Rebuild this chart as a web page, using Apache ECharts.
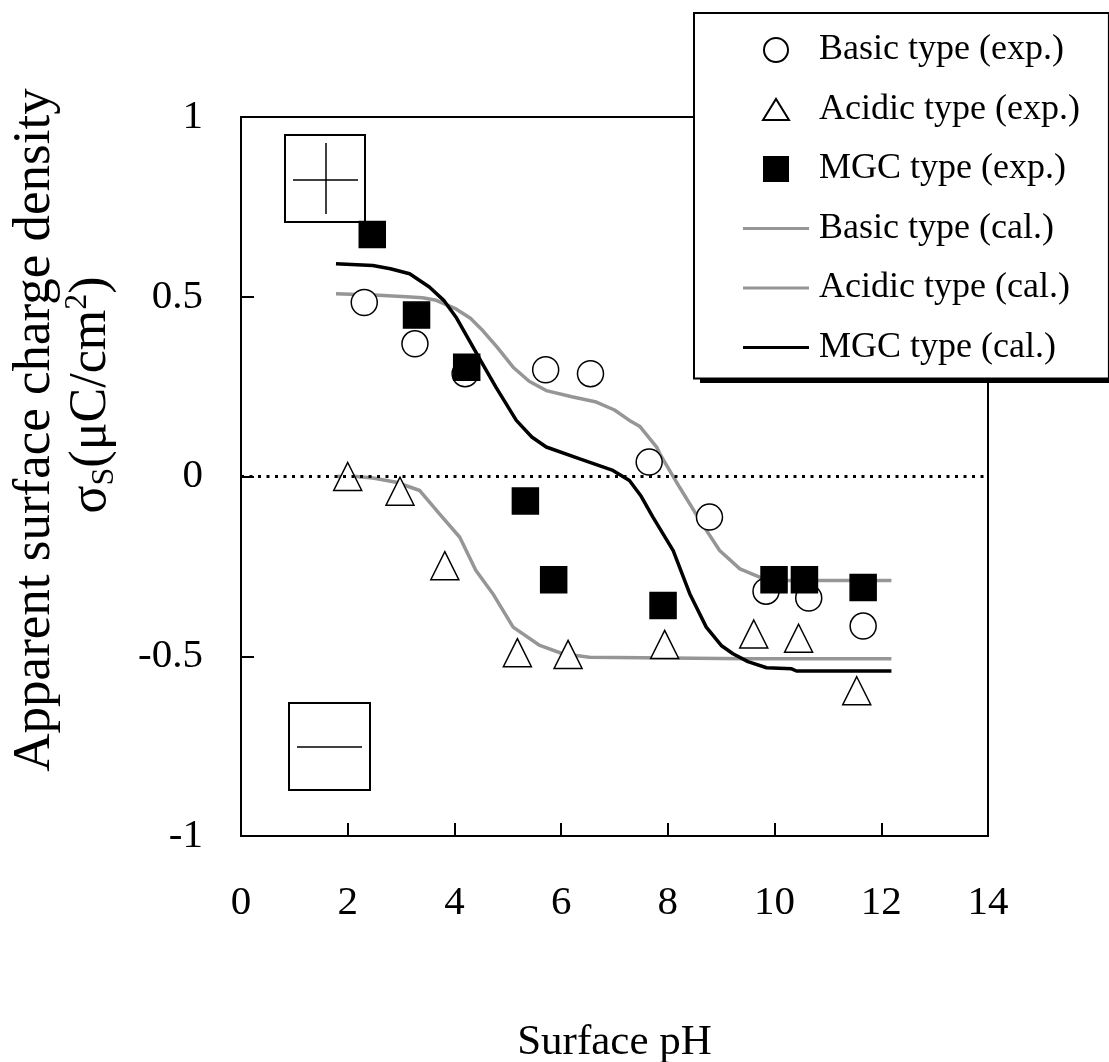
<!DOCTYPE html>
<html>
<head>
<meta charset="utf-8">
<script src="https://cdn.jsdelivr.net/npm/echarts@6/dist/echarts.min.js"></script>
<style>
  html, body { margin: 0; padding: 0; background: #fff; }
  #chart { width: 1109px; height: 1062px; }
</style>
</head>
<body>
<div id="chart"></div>
<script>
// experimental points (surface pH, charge density)
var basicExpPH = [2.31, 3.26, 4.20, 5.71, 6.55, 7.65, 8.78, 9.84, 10.64, 11.66]
var basicExpSigma = [0.484, 0.369, 0.286, 0.297, 0.286, 0.040, -0.113, -0.319, -0.338, -0.416]

var acidicExpPH = [2.00, 2.98, 3.82, 5.18, 6.13, 7.94, 9.61, 10.45, 11.54]
var acidicExpSigma = [0.000, -0.041, -0.248, -0.490, -0.495, -0.467, -0.438, -0.450, -0.596]

var mgcExpPH = [2.46, 3.29, 4.23, 5.33, 5.86, 7.91, 9.99, 10.56, 11.66]
var mgcExpSigma = [0.673, 0.449, 0.304, -0.068, -0.287, -0.359, -0.287, -0.287, -0.309]

// calculated curves
var basicCalPH = [1.78, 2.5, 3.1, 3.4, 3.66, 4.03, 4.3, 4.53, 4.8, 5.1, 5.4, 5.72, 6.2, 6.66, 7.0, 7.28, 7.47,
    7.79, 7.85, 8.22, 8.6, 8.97, 9.35, 9.72, 10.22, 12.19]
var basicCalSigma = [0.508, 0.505, 0.500, 0.497, 0.490, 0.466, 0.440, 0.406, 0.360, 0.304, 0.265, 0.239, 0.222,
    0.207, 0.185, 0.156, 0.140, 0.082, 0.063, -0.030, -0.122, -0.206, -0.257, -0.280, -0.289, -0.289]

var acidicCalPH = [1.8, 2.16, 2.47, 2.91, 3.35, 3.72, 4.1, 4.4, 4.72, 5.1, 5.6, 6.03, 6.53, 8.0, 9.5, 12.19]
var acidicCalSigma = [0.000, 0.000, -0.004, -0.016, -0.039, -0.104, -0.169, -0.261, -0.326, -0.419, -0.470,
    -0.493, -0.503, -0.505, -0.507, -0.507]

var mgcCalPH = [1.78, 2.47, 2.8, 3.16, 3.53, 3.8, 4.03, 4.28, 4.5, 4.78, 5.16, 5.45, 5.72, 6.35, 6.97, 7.28, 7.5,
    7.72, 8.1, 8.41, 8.72, 9.0, 9.22, 9.5, 9.85, 10.32, 10.41, 12.19]
var mgcCalSigma = [0.592, 0.587, 0.578, 0.564, 0.527, 0.490, 0.443, 0.378, 0.320, 0.248, 0.156, 0.110, 0.082,
    0.049, 0.017, -0.011, -0.055, -0.113, -0.206, -0.326, -0.419, -0.470, -0.493, -0.515, -0.532, -0.535,
    -0.541, -0.541]

var legendNames = ['Basic type (exp.)', 'Acidic type (exp.)', 'MGC type (exp.)',
    'Basic type (cal.)', 'Acidic type (cal.)', 'MGC type (cal.)']
// icons drawn in a 66x24 box (leading moveTo's fix the box size)
var lineIcon = 'path://M0,0M66,24M0,10.5L66,10.5L66,13.5L0,13.5Z'
var legendIcons = ['circle',
    'path://M0,0M66,24M20,22.5L33,1.5L46,22.5Z',
    'path://M0,0M66,24M21,0L45,0L45,24L21,24Z',
    lineIcon, lineIcon, lineIcon]

var serif = '"Liberation Serif", "Times New Roman", serif'

function pairs(xs, ys) {
    var out = []
    for (let i = 0; i < xs.length; i++) {
        out.push([xs[i], ys[i]])
    }
    return out
}

function calLine(name, xs, ys, color) {
    return {
        name: name,
        type: 'line',
        data: pairs(xs, ys),
        symbol: 'none',
        smooth: false,
        z: 2,
        lineStyle: { color: color, width: 3.5 },
        itemStyle: { color: color }
    }
}

function expPoints(name, xs, ys, symbol, size, fill) {
    return {
        name: name,
        type: 'scatter',
        data: pairs(xs, ys),
        symbol: symbol,
        symbolSize: size,
        z: 3,
        itemStyle: { color: fill, borderColor: '#000', borderWidth: 1.5, opacity: 1 }
    }
}

var zeroLine = calLine(legendNames[3], basicCalPH, basicCalSigma, '#969696')
zeroLine.markLine = {
    silent: true,
    symbol: ['none', 'none'],
    label: { show: false },
    lineStyle: { color: '#000', type: [3, 5.5], width: 3 },
    data: [{ yAxis: 0 }]
}

var legendData = []
for (let i = 0; i < legendNames.length; i++) {
    legendData.push({ name: legendNames[i], icon: legendIcons[i] })
}

var option = {
    animation: false,
    backgroundColor: '#fff',
    grid: {
        left: 241, right: 121, top: 117, bottom: 226,
        outerBoundsMode: 'none',
        containLabel: false,
        show: true, borderColor: '#000', borderWidth: 2, backgroundColor: 'transparent'
    },
    xAxis: {
        type: 'value',
        min: 0, max: 14, interval: 2,
        name: 'Surface pH',
        nameLocation: 'middle',
        nameGap: 185,
        nameTextStyle: { fontFamily: serif, fontSize: 43, color: '#000' },
        axisLine: { show: true, onZero: false, lineStyle: { color: '#000', width: 2 } },
        axisTick: { show: true, inside: true, length: 13, lineStyle: { color: '#000', width: 2 } },
        axisLabel: { fontFamily: serif, fontSize: 41, color: '#000', margin: 47 },
        splitLine: { show: false }
    },
    yAxis: {
        type: 'value',
        min: -1, max: 1, interval: 0.5,
        axisLine: { show: true, onZero: false, lineStyle: { color: '#000', width: 2 } },
        axisTick: { show: true, inside: true, length: 13, lineStyle: { color: '#000', width: 2 } },
        axisLabel: { fontFamily: serif, fontSize: 41, color: '#000', margin: 38 },
        splitLine: { show: false }
    },
    legend: {
        data: legendData,
        orient: 'vertical',
        left: 694,
        top: 13,
        padding: [19, 29, 13, 48],
        itemWidth: 66,
        itemHeight: 24,
        itemGap: 23.5,
        symbolKeepAspect: true,
        backgroundColor: '#fff',
        borderColor: '#000',
        borderWidth: 2,
        selectedMode: false,
        z: 6,
        textStyle: { fontFamily: serif, fontSize: 36, color: '#000', padding: [0, 0, 0, 5] }
    },
    graphic: [
        {
            type: 'text', x: 35, y: 430, rotation: Math.PI / 2,
            style: {
                text: 'Apparent surface charge density',
                fontFamily: serif, fontSize: 53, fill: '#000',
                align: 'center', verticalAlign: 'middle'
            }
        },
        {
            type: 'text', x: 91, y: 395, rotation: Math.PI / 2,
            style: {
                text: '{m|σ}{sub|S}{m|(μC/cm}{sup|2}{m|)}',
                align: 'center', verticalAlign: 'middle', fill: '#000',
                rich: {
                    m: { fontFamily: serif, fontSize: 52, lineHeight: 64, verticalAlign: 'middle', fill: '#000' },
                    sub: { fontFamily: serif, fontSize: 32, lineHeight: 32, verticalAlign: 'middle', padding: [28, 0, 0, 0], fill: '#000' },
                    sup: { fontFamily: serif, fontSize: 32, lineHeight: 32, verticalAlign: 'middle', padding: [0, 0, 26, 0], fill: '#000' }
                }
            }
        },
        // solid shadow behind the legend box
        {
            type: 'rect', z: 5,
            shape: { x: 700, y: 19, width: 412, height: 364 },
            style: { fill: '#000' }
        },
        // "+" box
        {
            type: 'group', z: 10,
            children: [
                { type: 'rect', shape: { x: 285, y: 135, width: 80, height: 87 }, style: { fill: '#fff', stroke: '#000', lineWidth: 2 } },
                { type: 'line', shape: { x1: 293, y1: 180, x2: 358, y2: 180 }, style: { stroke: '#000', lineWidth: 1.5 } },
                { type: 'line', shape: { x1: 326, y1: 143, x2: 326, y2: 214 }, style: { stroke: '#000', lineWidth: 1.5 } }
            ]
        },
        // "-" box
        {
            type: 'group', z: 10,
            children: [
                { type: 'rect', shape: { x: 289, y: 703, width: 81, height: 87 }, style: { fill: '#fff', stroke: '#000', lineWidth: 2 } },
                { type: 'line', shape: { x1: 297, y1: 747, x2: 362, y2: 747 }, style: { stroke: '#000', lineWidth: 1.5 } }
            ]
        }
    ],
    series: [
        zeroLine,
        calLine(legendNames[4], acidicCalPH, acidicCalSigma, '#969696'),
        calLine(legendNames[5], mgcCalPH, mgcCalSigma, '#000'),
        expPoints(legendNames[0], basicExpPH, basicExpSigma, 'circle', 26, '#fff'),
        expPoints(legendNames[1], acidicExpPH, acidicExpSigma, 'triangle', 28, '#fff'),
        expPoints(legendNames[2], mgcExpPH, mgcExpSigma, 'rect', 26, '#000')
    ]
}

var myChart = echarts.init(document.getElementById('chart'))
myChart.setOption(option)
</script>
</body>
</html>
